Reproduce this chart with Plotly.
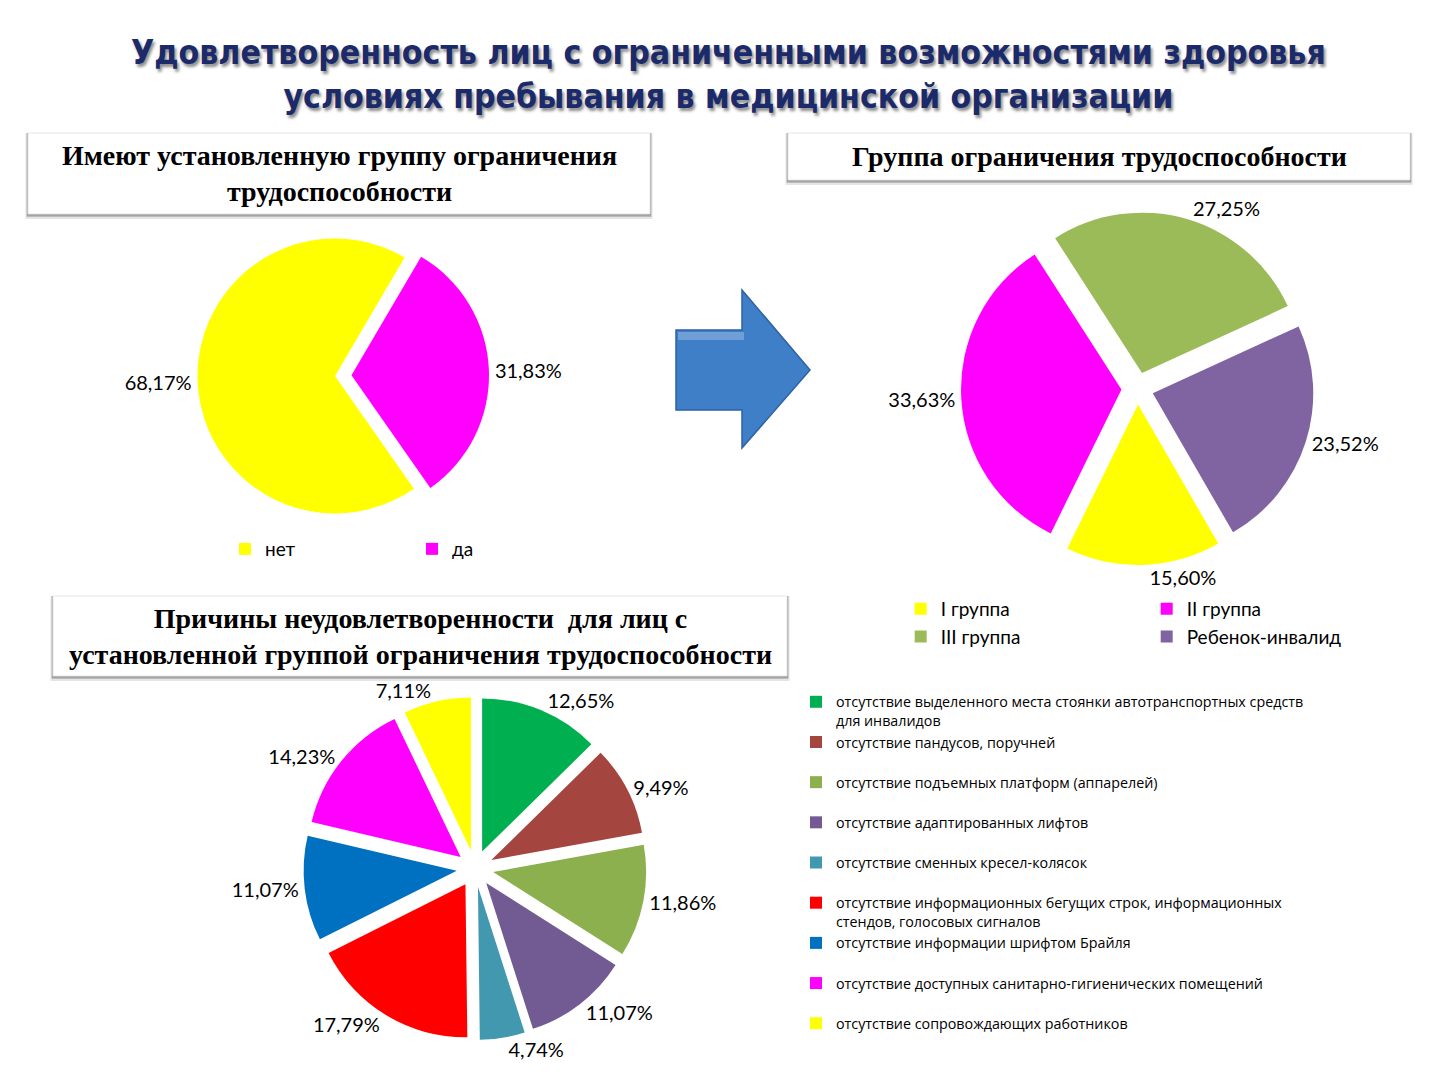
import plotly.graph_objects as go

W, H = 1440, 1080
R_MARGIN = 56   # keeps legend2 (anchored just right of the plot area) at two columns
OFF = 8         # page offset of the plot div

# --- data ---
title_lines = ["Удовлетворенность лиц с ограниченными возможностями здоровья",
               "условиях пребывания в медицинской организации"]

group_labels = ["нет", "да"]
group_values = [68.17, 31.83]
group_colors = ["#FFFF00", "#FF00FF"]

level_labels = ["I группа", "II группа", "III группа", "Ребенок-инвалид"]
level_values = [15.60, 33.63, 27.25, 23.52]
level_colors = ["#FFFF00", "#FF00FF", "#9BBB59", "#8064A2"]

reason_labels = [
    "отсутствие выделенного места стоянки автотранспортных средств<br>для инвалидов",
    "отсутствие пандусов, поручней",
    "отсутствие подъемных платформ (аппарелей)",
    "отсутствие адаптированных лифтов",
    "отсутствие сменных кресел-колясок",
    "отсутствие информационных бегущих строк, информационных<br>стендов, голосовых сигналов",
    "отсутствие информации шрифтом Брайля",
    "отсутствие доступных санитарно-гигиенических помещений",
    "отсутствие сопровождающих работников",
]
reason_values = [12.65, 9.49, 11.86, 11.07, 4.74, 17.79, 11.07, 14.23, 7.11]
reason_colors = ["#00B050", "#A5453F", "#8DB04F", "#715B92", "#4198AF",
                 "#FF0000", "#0070C0", "#FF00FF", "#FFFF00"]

headers = [
    ("Имеют установленную группу ограничения<br>трудоспособности", 28, 133, 650, 214),
    ("Группа ограничения трудоспособности", 788, 133, 1410, 180),
    ("Причины неудовлетворенности  для лиц с<br>установленной группой ограничения трудоспособности", 53, 596, 787, 676),
]

GW = W - R_MARGIN


def fx(x):
    return (x - OFF) / GW


def fy(y):
    return 1 - (y - OFF) / H


def two_line(lbl):
    # every legend entry takes two lines, like the slide's even spacing
    return lbl if "<br>" in lbl else lbl + "<br> "


LABEL_FONT = dict(family="Lato, Noto Sans, sans-serif", size=20, color="#000000")

fig = go.Figure()

fig.add_trace(go.Pie(
    labels=group_labels, values=group_values, sort=False, direction="clockwise",
    rotation=145, pull=[0, 0.12], marker=dict(colors=group_colors),
    texttemplate="%{value:.2f}%", textposition="outside", textfont=LABEL_FONT,
    domain=dict(x=[fx(150), fx(520)], y=[fy(530), fy(222)]),
    legend="legend", hoverinfo="label+value",
))

fig.add_trace(go.Pie(
    labels=level_labels, values=level_values, sort=False,
    direction="clockwise", rotation=150, pull=0.1,
    marker=dict(colors=level_colors),
    texttemplate="%{value:.2f}%", textposition="outside", textfont=LABEL_FONT,
    domain=dict(x=[fx(955), fx(1320)], y=[fy(565), fy(212)]),
    legend="legend2", hoverinfo="label+value",
))

fig.add_trace(go.Pie(
    labels=[two_line(l) for l in reason_labels], values=reason_values, sort=False,
    direction="clockwise", rotation=0, pull=0.12,
    marker=dict(colors=reason_colors),
    texttemplate="%{value:.2f}%", textposition="outside", textfont=LABEL_FONT,
    domain=dict(x=[fx(295), fx(655)], y=[fy(1040), fy(697)]),
    legend="legend3", hoverinfo="label+value",
))

shapes = []
annotations = []
for text, x0, y0, x1, y1 in headers:
    for off, op in [(5, 0.10), (3, 0.18), (1.5, 0.25)]:
        shapes.append(dict(type="rect", xref="paper", yref="paper",
                           x0=fx(x0 - off / 2), x1=fx(x1 + off / 2),
                           y0=fy(y1 + off), y1=fy(y0),
                           fillcolor=f"rgba(0,0,0,{op})", line=dict(width=0), layer="below"))
    shapes.append(dict(type="rect", xref="paper", yref="paper",
                       x0=fx(x0), x1=fx(x1), y0=fy(y1), y1=fy(y0),
                       fillcolor="#FFFFFF", line=dict(color="#E6E6E6", width=1), layer="below"))
    annotations.append(dict(text=f"<b>{text}</b>", xref="paper", yref="paper",
                            x=fx((x0 + x1) / 2), y=fy((y0 + y1) / 2),
                            xanchor="center", yanchor="middle", showarrow=False,
                            font=dict(family="Liberation Serif, serif", size=28, color="#000000")))

# blue arrow between the two top pies
arrow = "M {} {} L {} {} L {} {} L {} {} L {} {} L {} {} L {} {} Z".format(
    fx(676), fy(330), fx(742), fy(330), fx(742), fy(290), fx(810), fy(370),
    fx(742), fy(448), fx(742), fy(410), fx(676), fy(410))
shapes.append(dict(type="path", xref="paper", yref="paper", path=arrow,
                   fillcolor="#3F7FC8", line=dict(color="#2E62A4", width=1.5)))
hl = "M {} {} L {} {} L {} {} L {} {} Z".format(
    fx(678), fy(332), fx(744), fy(332), fx(744), fy(340), fx(678), fy(340))
shapes.append(dict(type="path", xref="paper", yref="paper", path=hl,
                   fillcolor="rgba(255,255,255,0.25)", line=dict(width=0)))

annotations.append(dict(
    text="<b>" + "<br>".join(title_lines) + "</b>", xref="paper", yref="paper",
    x=fx(728), y=fy(75), xanchor="center", yanchor="middle", showarrow=False,
    font=dict(family="DejaVu Sans Condensed, sans-serif",
              size=33.5, color="#1B2A6B", shadow="2px 3px 3px rgba(0,0,0,0.45)"),
))

LEG_FONT = dict(family="Lato, Noto Sans, sans-serif", size=19, color="#000000")

fig.update_layout(
    width=W, height=H,
    margin=dict(l=0, r=R_MARGIN, t=0, b=0, autoexpand=False),
    paper_bgcolor="#FFFFFF",
    separators=", ",
    shapes=shapes,
    annotations=annotations,
    legend=dict(orientation="h", x=fx(225), y=fy(530), xanchor="left", yanchor="top",
                entrywidth=142, font=LEG_FONT, bgcolor="rgba(0,0,0,0)"),
    legend2=dict(orientation="h", x=1.0005, y=fy(590), xanchor="right", yanchor="top",
                 entrywidth=201, font=LEG_FONT, bgcolor="rgba(0,0,0,0)"),
    legend3=dict(orientation="v", x=fx(796), y=fy(686), xanchor="left", yanchor="top",
                 font=dict(family="Open Sans, Noto Sans, sans-serif", size=14.3, color="#000000"),
                 valign="top", bgcolor="rgba(0,0,0,0)", tracegroupgap=0),
)

fig.write_html("out.html")
